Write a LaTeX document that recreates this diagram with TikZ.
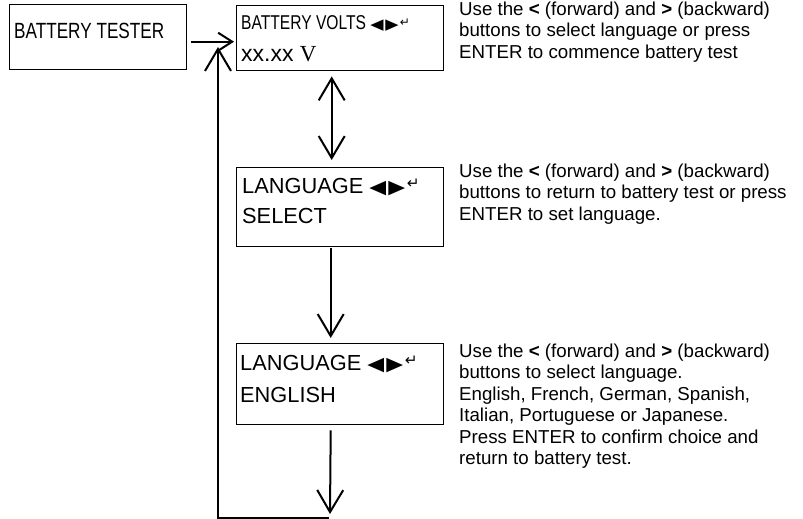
\documentclass[tikz,border=0pt]{standalone}
\usepackage{fontspec}
\setmainfont{Liberation Sans}
\newfontfamily\narrowfont[FakeStretch=0.78]{Liberation Sans}
\newfontfamily\symfont{DejaVu Sans}
\newfontfamily\seriffont{Liberation Serif}
\usetikzlibrary{arrows.meta,calc}
\tikzset{
  box/.style={draw, line width=1.4pt, inner sep=0pt, anchor=north west},
  lbl/.style={inner sep=0pt, anchor=base west},
  note/.style={inner sep=0pt, anchor=north west, align=left, font=\fontsize{18.7}{21.5}\selectfont},
  conn/.style={line width=2pt},
  bigarr/.style={conn, -{Straight Barb[length=22pt,width=26pt]}},
  smallarr/.style={conn, -{Straight Barb[length=14pt,width=18pt]}},
  dblarr/.style={conn, {Straight Barb[length=22pt,width=26pt]}-{Straight Barb[length=22pt,width=26pt]}},
}
\newcommand{\keys}[1]{{\symfont\fontsize{#1}{#1}\selectfont\scalebox{1.15}[1]{◀}\hspace{0.12em}\scalebox{1.15}[1]{▶}\hspace{0.08em}\raisebox{0.4ex}{\fontsize{0.8\dimexpr#1pt\relax}{1pt}\selectfont↵}}}
\begin{document}
\begin{tikzpicture}[x=1pt,y=-1pt]
\useasboundingbox (0,0) rectangle (803,519);
% boxes
\node[box, minimum width=177pt, minimum height=65pt] (b0) at (9,4) {};
\node[box, minimum width=207pt, minimum height=65pt] (b1) at (236,5) {};
\node[box, minimum width=207pt, minimum height=79pt] (b2) at (236,167) {};
\node[box, minimum width=207pt, minimum height=81pt] (b3) at (236,343) {};
% box texts
\node[lbl, font=\narrowfont\fontsize{22}{22}\selectfont] (t0) at (14,38.5) {BATTERY TESTER};
\node[lbl, font=\narrowfont\fontsize{20}{20}\selectfont] (t1a) at (241,30) {BATTERY VOLTS \keys{15}};
\node[lbl] (t1b) at (241,62) {\fontsize{23}{23}\selectfont xx.xx \seriffont V};
\node[lbl, font=\fontsize{21.8}{21.8}\selectfont] (t2a) at (242,193) {LANGUAGE \keys{19}};
\node[lbl, font=\fontsize{21.8}{21.8}\selectfont] (t2b) at (242,223) {SELECT};
\node[lbl, font=\fontsize{21.8}{21.8}\selectfont] (t3a) at (240,370) {LANGUAGE \keys{19}};
\node[lbl, font=\fontsize{21.8}{21.8}\selectfont] (t3b) at (240,402) {ENGLISH};
% notes
\node[note] (n1) at (459,-0.05) {\strut Use the \textbf{<} (forward) and \textbf{>} (backward)\\buttons to select language or press\\ENTER to commence battery test};
\node[note] (n2) at (459,161.95) {\strut Use the \textbf{<} (forward) and \textbf{>} (backward)\\buttons to return to battery test or press\\ENTER to set language.};
\node[note] (n3) at (459,341.95) {\strut Use the \textbf{<} (forward) and \textbf{>} (backward)\\buttons to select language.\\English, French, German, Spanish,\\Italian, Portuguese or Japanese.\\Press ENTER to confirm choice and\\return to battery test.};
% connectors
\coordinate (bot) at (330,514);
\coordinate (cr) at (329,518);
\coordinate (cl) at (218,518);
\coordinate (ent) at (218,47);
\draw[smallarr] ([shift={(4,4.5)}]b0.east) -- ([shift={(-2,3.5)}]b1.west);
\draw[dblarr] ([shift={(-8.5,5)}]b1.south) -- ([shift={(-8.5,-7)}]b2.north);
\draw[bigarr] ([shift={(-9.5,0.5)}]b2.south) -- ([shift={(-9.5,-5)}]b3.north);
\draw[bigarr] ([shift={(-9.5,5)}]b3.south) -- (bot);
\draw[bigarr] (cr) -- (cl) -- (ent);
\end{tikzpicture}
\end{document}
